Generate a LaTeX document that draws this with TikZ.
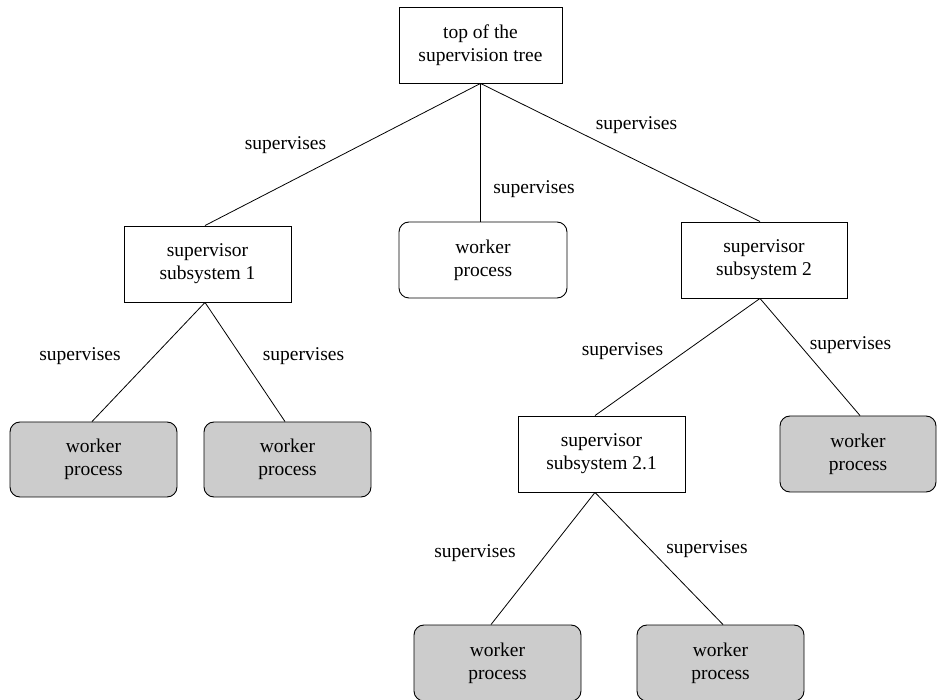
\documentclass[tikz,border=0pt]{standalone}
\usepackage{fontspec}
\setmainfont{Liberation Serif}
\begin{document}
\begin{tikzpicture}[x=1pt,y=-1pt,
  every node/.style={font=\fontsize{19.5}{23}\selectfont, inner sep=0pt, align=center},
  supbox/.style={draw=black, line width=0.9pt, fill=white, minimum width=167pt, minimum height=76pt},
  workbox/.style={draw=black, line width=0.9pt, rounded corners=10pt, minimum width=167pt, minimum height=76pt},
  leafbox/.style={workbox, fill=black!20},
  link/.style={draw=black, line width=0.8pt},
  lbl/.style={}]
  \useasboundingbox (0,0) rectangle (938,700);

  % supervisors and workers
  \node[supbox, minimum width=163pt] (top) at (480.5,45) {top of the\\supervision tree};
  \node[supbox] (sub1) at (207.5,264) {supervisor\\subsystem 1};
  \node[workbox, minimum width=168pt] (wmid) at (483,260) {worker\\process};
  \node[supbox, minimum width=166pt] (sub2) at (764,260) {supervisor\\subsystem 2};
  \node[leafbox, minimum height=75pt] (w1) at (93.5,459.5) {worker\\process};
  \node[leafbox, minimum height=75pt] (w2) at (287.5,459.5) {worker\\process};
  \node[supbox] (sub21) at (601.5,454) {supervisor\\subsystem 2.1};
  \node[leafbox, minimum width=156pt] (w3) at (858,454) {worker\\process};
  \node[leafbox, minimum height=76pt] (w4) at (497.5,663) {worker\\process};
  \node[leafbox, minimum height=76pt] (w5) at (720.5,663) {worker\\process};

  % supervision links
  \draw[link] (top.south) -- ([xshift=-2.5pt]sub1.north);
  \draw[link] (top.south) -- (top.south |- wmid.north);
  \draw[link] (top.south) -- ([xshift=-4pt]sub2.north);
  \draw[link] ([xshift=-2.5pt]sub1.south) -- ([xshift=-1.5pt]w1.north);
  \draw[link] ([xshift=-2.5pt]sub1.south) -- ([xshift=-2.5pt]w2.north);
  \draw[link] ([xshift=-4pt]sub2.south) -- ([xshift=-6.5pt]sub21.north);
  \draw[link] ([xshift=-4pt]sub2.south) -- ([xshift=2pt]w3.north);
  \draw[link] ([xshift=-6.5pt]sub21.south) -- ([xshift=-6.5pt]w4.north);
  \draw[link] ([xshift=-6.5pt]sub21.south) -- ([xshift=2.5pt]w5.north);

  % labels
  \node[lbl] (l1) at (285.5,145) {supervises};
  \node[lbl] (l2) at (534,189) {supervises};
  \node[lbl] (l3) at (636.5,125) {supervises};
  \node[lbl] (l4) at (80,356) {supervises};
  \node[lbl] (l5) at (303.5,356) {supervises};
  \node[lbl] (l6) at (622.5,351) {supervises};
  \node[lbl] (l7) at (850.5,345) {supervises};
  \node[lbl] (l8) at (475,553) {supervises};
  \node[lbl] (l9) at (707,549) {supervises};
\end{tikzpicture}
\end{document}
